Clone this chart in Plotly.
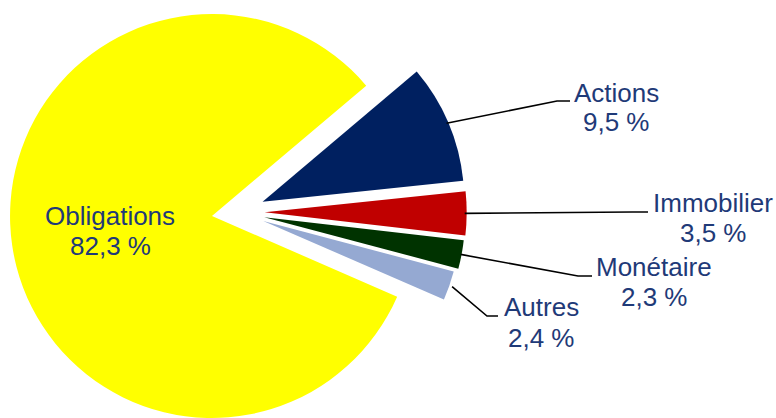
import math
import plotly.graph_objects as go

# ---- data ----
labels = ["Actions", "Immobilier", "Monétaire", "Autres", "Obligations"]
values = [9.5, 3.5, 2.3, 2.4, 82.3]
value_text = ["9,5 %", "3,5 %", "2,3 %", "2,4 %", "82,3 %"]

# ---- style / layout ----
colors = ["#002060", "#C00000", "#003300", "#95A9D2", "#FFFF00"]
text_color = "#1F3A78"
W, H = 776, 418
start_angle = 40.2          # math angle (deg) where the first slice starts
center = (238.2, 212.2)     # common pie centre (px)
explode = 26.5              # explosion distance (px)
R = 202.0                   # pie radius (px)
font_family = "Arial, Liberation Sans, sans-serif"
font_size = 26

# label layout: (name centre x, name centre y, value centre y, elbow x, elbow y, end x)
label_pos = {
    "Actions":     (616, 93, 122, 557, 101, 570),
    "Immobilier":  (713, 203, 233, 632, 212, 648),
    "Monétaire":   (654, 267, 297, 578, 276, 592),
    "Autres":      (541, 307, 338, 487, 316, 498),
}
inside_pos = {"Obligations": (110, 216, 246)}

total = sum(values)
fig = go.Figure()

# slice bisectors from data
bisectors = []
a = start_angle
for v in values:
    span = 360.0 * v / total
    bisectors.append(a - span / 2)
    a -= span

def to_paper(px, py):
    return px / W, 1 - py / H

centers = []
for b in bisectors:
    rad = math.radians(b)
    centers.append((center[0] + explode * math.cos(rad),
                    center[1] - explode * math.sin(rad)))

# draw order: big slice first
order = [4, 0, 1, 2, 3]
for i in order:
    cx, cy = centers[i]
    r = min(R, cx, W - cx, cy, H - cy) - 0.01
    x0 = max(0.0, (cx - r) / W)
    x1 = min(1.0, (cx + r) / W)
    y0 = max(0.0, 1 - (cy + r) / H)
    y1 = min(1.0, 1 - (cy - r) / H)
    cols = [colors[j] if j == i else "rgba(0,0,0,0)" for j in range(len(values))]
    fig.add_trace(go.Pie(
        labels=labels, values=values, sort=False, direction="clockwise",
        rotation=90 - start_angle, textinfo="none", hoverinfo="skip",
        marker=dict(colors=cols, line=dict(width=0, color="white")),
        domain=dict(x=[x0, x1], y=[y0, y1]), showlegend=False,
    ))

shapes = []
annotations = []
for i, name in enumerate(labels):
    if name in label_pos:
        nx, ny, vy, ex, ey, endx = label_pos[name]
        rad = math.radians(bisectors[i])
        cx, cy = centers[i]
        ax_ = cx + (R - 2) * math.cos(rad)
        ay_ = cy - (R - 2) * math.sin(rad)
        p0 = to_paper(ax_, ay_)
        p1 = to_paper(ex, ey)
        p2 = to_paper(endx, ey)
        shapes.append(dict(
            type="path", xref="paper", yref="paper",
            path=f"M {p0[0]},{p0[1]} L {p1[0]},{p1[1]} L {p2[0]},{p2[1]}",
            line=dict(color="black", width=1.6),
        ))
    else:
        nx, ny, vy = inside_pos[name]
    for txt, yy in ((name, ny), (value_text[i], vy)):
        px, py = to_paper(nx, yy)
        annotations.append(dict(
            x=px, y=py, xref="paper", yref="paper", text=txt, showarrow=False,
            xanchor="center", yanchor="middle",
            font=dict(family=font_family, size=font_size, color=text_color),
        ))

fig.update_layout(
    width=W, height=H, margin=dict(l=0, r=0, t=0, b=0),
    paper_bgcolor="white", plot_bgcolor="white",
    shapes=shapes, annotations=annotations,
)

fig.write_html("out.html", config={"displayModeBar": False},
               post_script="document.body.style.margin='0';")
